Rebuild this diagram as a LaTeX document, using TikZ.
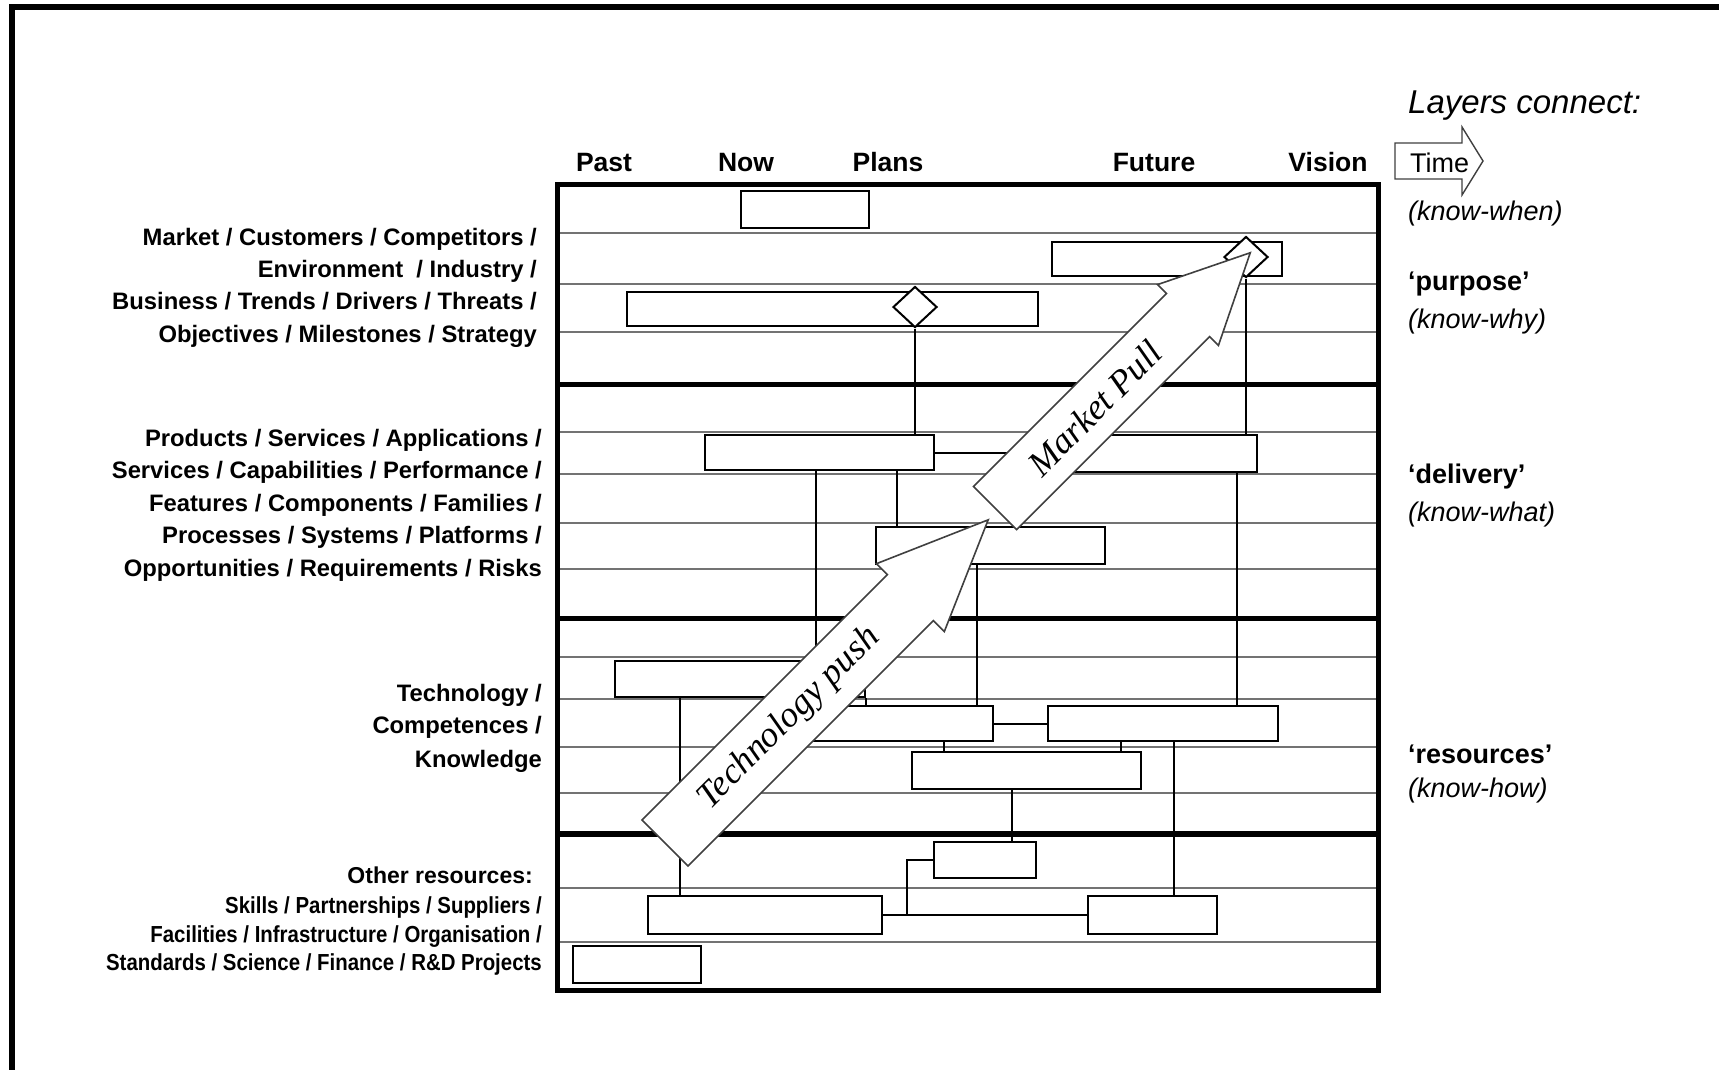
\documentclass[tikz,border=0pt]{standalone}
\usepackage{fontspec}
\setmainfont{Liberation Sans}
\newfontfamily\serifit{Liberation Serif}
\newfontfamily\narrowsans[FakeStretch=0.88]{Liberation Sans}
\usetikzlibrary{fit,shapes.geometric,calc}
\begin{document}
\begin{tikzpicture}[x=1pt,y=-1pt,line join=miter,
  gridthin/.style={draw=black!55,line width=2pt},
  gridthick/.style={line width=5.5pt},
  bx/.style={draw,fill=white,line width=2pt,inner sep=0pt,rectangle},
  dia/.style={draw,fill=white,line width=2pt,inner sep=0pt,diamond,minimum width=44pt,minimum height=41pt},
  conn/.style={line width=2pt},
  blk/.style={draw=black!75,fill=white,line width=1.6pt},
  hdr/.style={font=\bfseries\fontsize{26.5}{30}\selectfont,anchor=base,inner sep=0pt},
  lbl/.style={font=\bfseries\fontsize{23.8}{30}\selectfont,anchor=base east,inner sep=0pt},
  slbl/.style={font=\narrowsans\bfseries\fontsize{23.2}{28}\selectfont,anchor=base east,inner sep=0pt},
  rlbl/.style={font=\fontsize{27}{30}\selectfont,anchor=base west,inner sep=0pt},
  arrtxt/.style={font=\serifit\itshape\fontsize{36}{40}\selectfont,inner sep=0pt,rotate=45}]
\useasboundingbox (0,0) rectangle (1719,1069);
\fill[white] (0,0) rectangle (1719,1069);
% outer frame
\draw[line width=6pt] (11.5,1075) -- (11.5,7) -- (1725,7);
% thin grid lines
\foreach \yy in {233,284,332,432,474,523,569,657,699,747,793,888,942}
  \draw[gridthin] (557.5,\yy) -- (1378.5,\yy);
% thick frame and section lines
\draw[gridthick] (557.5,184.5) rectangle (1378.5,990.5);
\foreach \yy in {384.5,618.5,834}
  \draw[gridthick] (557.5,\yy) -- (1378.5,\yy);
% headers
\node[hdr] (past) at (604,171) {Past};
\node[hdr] (now) at (746,171) {Now};
\node[hdr] (plans) at (888,171) {Plans};
\node[hdr] (future) at (1154,171) {Future};
\node[hdr] (vision) at (1328,171) {Vision};
% boxes
\node[bx,fit={(741,191) (869,228)}] (b1) {};
\node[bx,fit={(627,292) (1038,326)}] (b2) {};
\node[bx,fit={(1052,242) (1282,276)}] (b3) {};
\node[bx,fit={(705,435) (934,470)}] (b4) {};
\node[bx,fit={(1030,435) (1257,472)}] (b5) {};
\node[bx,fit={(876,527) (1105,564)}] (b7) {};
\node[bx,fit={(615,661) (865,697)}] (b6) {};
\node[bx,fit={(811,706) (993,741)}] (b8) {};
\node[bx,fit={(1048,706) (1278,741)}] (b9) {};
\node[bx,fit={(912,752) (1141,789)}] (b11) {};
\node[bx,fit={(934,842) (1036,878)}] (b12) {};
\node[bx,fit={(648,896) (882,934)}] (b10) {};
\node[bx,fit={(1088,896) (1217,934)}] (b13) {};
\node[bx,fit={(573,946) (701,983)}] (b14) {};
\node[dia] (d1) at (915,307) {};
\node[dia] (d2) at (1246,257) {};
% connectors
\draw[conn] (d1.south) -- (d1.south |- b4.north);
\draw[conn] (d2.south) -- (d2.south |- b5.north);
\draw[conn] (816,0 |- b4.south) -- (816,0 |- b6.north);
\draw[conn] (897,0 |- b4.south) -- (897,0 |- b7.north);
\draw[conn] (b4.east) -- (b4.east -| b5.west);
\draw[conn] (1237,0 |- b5.south) -- (1237,0 |- b9.north);
\draw[conn] (977,0 |- b7.south) -- (977,0 |- b8.north);
\draw[conn] (680,0 |- b6.south) -- (680,0 |- b10.north);
\draw[conn] (b6.south east) -- (b6.south east |- b8.north);
\draw[conn] (944,0 |- b8.south) -- (944,0 |- b11.north);
\draw[conn] (1121,0 |- b9.south) -- (1121,0 |- b11.north);
\draw[conn] (b8.east) -- (b9.west);
\draw[conn] (1174,0 |- b9.south) -- (1174,0 |- b13.north);
\draw[conn] (1012,0 |- b11.south) -- (1012,0 |- b12.north);
\draw[conn] (b10.east) -- (b13.west);
\draw[conn] (b12.west) -| (907,0 |- b10.east);
% block arrows
\begin{scope}[shift={(665,843)},rotate=45]
  \draw[blk] (0,-32.5) -- (347,-32.5) -- (347,-48) -- (457,0) -- (347,48) -- (347,32.5) -- (0,32.5) -- cycle;
  \node[arrtxt] (tpush) at (176,0) {Technology push};
\end{scope}
\begin{scope}[shift={(995,508)},rotate=45]
  \draw[blk] (0,-30.5) -- (273,-30.5) -- (273,-43) -- (361,0) -- (273,43) -- (273,30.5) -- (0,30.5) -- cycle;
  \node[arrtxt] (mpull) at (141,0) {Market Pull};
\end{scope}
% time arrow
\draw[blk,line width=1.4pt] (1395,143) -- (1462,143) -- (1462,127) -- (1483,161) -- (1462,195) -- (1462,179) -- (1395,179) -- cycle;
\node[rlbl] (time) at (1410,172) {Time};
% right labels
\node[rlbl,font=\itshape\fontsize{33}{36}\selectfont] (layers) at (1408,113) {Layers connect:};
\node[rlbl,font=\itshape\fontsize{27}{30}\selectfont] (kwhen) at (1408,220) {(know-when)};
\node[rlbl,font=\bfseries\fontsize{27}{30}\selectfont] (purp) at (1408,290) {`purpose'};
\node[rlbl,font=\itshape\fontsize{27}{30}\selectfont] (kwhy) at (1408,328) {(know-why)};
\node[rlbl,font=\bfseries\fontsize{27}{30}\selectfont] (deliv) at (1408,483) {`delivery'};
\node[rlbl,font=\itshape\fontsize{27}{30}\selectfont] (kwhat) at (1408,521) {(know-what)};
\node[rlbl,font=\bfseries\fontsize{27}{30}\selectfont] (resrc) at (1408,763) {`resources'};
\node[rlbl,font=\itshape\fontsize{27}{30}\selectfont] (khow) at (1408,797) {(know-how)};
% left labels
\node[lbl] (l1) at (537,245) {Market / Customers / Competitors /};
\node[lbl] (l2) at (537,277) {Environment~ / Industry /};
\node[lbl] (l3) at (537,309) {Business / Trends / Drivers / Threats /};
\node[lbl] (l4) at (537,342) {Objectives / Milestones / Strategy};
\node[lbl] (l5) at (542,446) {Products / Services / Applications /};
\node[lbl] (l6) at (542,478) {Services / Capabilities / Performance /};
\node[lbl] (l7) at (542,511) {Features / Components / Families /};
\node[lbl] (l8) at (542,543) {Processes / Systems / Platforms /};
\node[lbl] (l9) at (542,576) {Opportunities / Requirements / Risks};
\node[lbl] (l10) at (542,701) {Technology /};
\node[lbl] (l11) at (542,733) {Competences /};
\node[lbl] (l12) at (542,767) {Knowledge};
\node[lbl,font=\bfseries\fontsize{23}{28}\selectfont] (l13) at (533,883) {Other resources:};
\node[slbl] (l14) at (542,913) {Skills / Partnerships / Suppliers /};
\node[slbl] (l15) at (542,942) {Facilities / Infrastructure / Organisation /};
\node[slbl] (l16) at (542,970) {Standards / Science / Finance / R\&D Projects};
\end{tikzpicture}
\end{document}
